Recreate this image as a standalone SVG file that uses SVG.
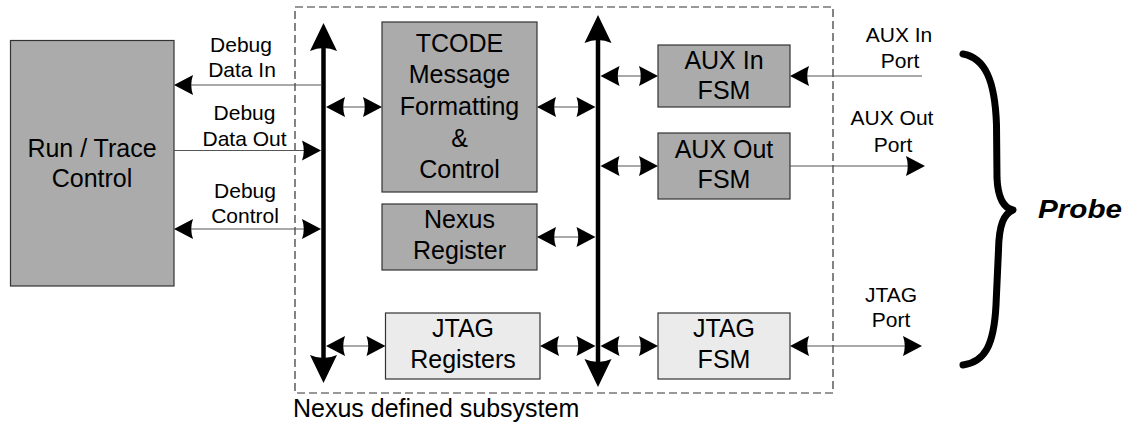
<svg xmlns="http://www.w3.org/2000/svg" xmlns:xlink="http://www.w3.org/1999/xlink" width="1131" height="433" viewBox="0 0 1131 433">
  <style>
    text { font-family: "Liberation Sans", Arial, sans-serif; fill: #000; }
    .box { fill: #ababab; stroke: #333; stroke-width: 1.2; }
    .box-light { fill: #ebebeb; stroke: #333; stroke-width: 1.2; }
    .t-box { font-size: 25px; text-anchor: middle; }
    .t-label { font-size: 21px; text-anchor: middle; }
    .wire { stroke: #555; stroke-width: 1.2; fill: none; }
    .bus { stroke: #000; stroke-width: 4.5; fill: none; }
  </style>
  <defs>
    <!-- notched arrowheads, tip at the origin, pointing right -->
    <path id="ah" d="M0,0 L-19,-10 Q-15.5,0 -19,10 Z" fill="#000"/>
    <path id="bah" d="M0,0 L-28,-13.5 Q-22,0 -28,13.5 Z" fill="#000"/>
  </defs>

  <!-- subsystem boundary -->
  <g id="subsystem">
    <rect x="295" y="7" width="538" height="386" fill="none" stroke="#333" stroke-width="1.2" stroke-dasharray="8,4"/>
    <text x="293" y="417" style="font-size:25px">Nexus defined subsystem</text>
  </g>

  <g id="run-trace">
    <rect class="box" x="10.5" y="40.5" width="163.5" height="245.5"/>
    <text class="t-box" x="92" y="157">Run / Trace</text>
    <text class="t-box" x="92" y="187">Control</text>
  </g>

  <g id="tcode">
    <rect class="box" x="382" y="22" width="155" height="170"/>
    <text class="t-box" x="459.5" y="52">TCODE</text>
    <text class="t-box" x="459.5" y="83">Message</text>
    <text class="t-box" x="459.5" y="115">Formatting</text>
    <text class="t-box" x="459.5" y="147">&amp;</text>
    <text class="t-box" x="459.5" y="178">Control</text>
  </g>

  <g id="nexus-register">
    <rect class="box" x="382" y="204" width="155" height="66"/>
    <text class="t-box" x="459.5" y="228">Nexus</text>
    <text class="t-box" x="459.5" y="259">Register</text>
  </g>

  <g id="jtag-registers">
    <rect class="box-light" x="385.5" y="313" width="154.5" height="66"/>
    <text class="t-box" x="463" y="337">JTAG</text>
    <text class="t-box" x="463" y="368">Registers</text>
  </g>

  <g id="aux-in-fsm">
    <rect class="box" x="658" y="45" width="132" height="62"/>
    <text class="t-box" x="724" y="68.5">AUX In</text>
    <text class="t-box" x="724" y="98.5">FSM</text>
  </g>

  <g id="aux-out-fsm">
    <rect class="box" x="658" y="133" width="132" height="66"/>
    <text class="t-box" x="724" y="158">AUX Out</text>
    <text class="t-box" x="724" y="188">FSM</text>
  </g>

  <g id="jtag-fsm">
    <rect class="box-light" x="658" y="313" width="132" height="66"/>
    <text class="t-box" x="724" y="337">JTAG</text>
    <text class="t-box" x="724" y="368">FSM</text>
  </g>

  <g id="probe">
    <path d="M963,54 C985,58 995,80 996.5,125 L997,178 C998,200 1004,208 1013,210 C1004,214 999,224 998.5,250 L996,305 C994,345 985,362 963,365" fill="none" stroke="#000" stroke-width="7" stroke-linecap="round" stroke-linejoin="round"/>
    <text x="1038" y="218" style="font-size:25px;font-weight:bold;font-style:italic" textLength="84" lengthAdjust="spacingAndGlyphs">Probe</text>
  </g>

  <g id="connectors">
    <!-- left bus -->
    <line class="bus" x1="323.5" y1="372" x2="323.5" y2="34"/>
    <use xlink:href="#bah" transform="translate(323.5,23) rotate(-90)"/>
    <use xlink:href="#bah" transform="translate(323.5,383) rotate(90)"/>
    <!-- right bus -->
    <line class="bus" x1="598" y1="376" x2="598" y2="26"/>
    <use xlink:href="#bah" transform="translate(598,15) rotate(-90)"/>
    <use xlink:href="#bah" transform="translate(598,387) rotate(90)"/>

    <!-- run/trace side -->
    <line class="wire" x1="321.5" y1="85" x2="180" y2="85"/>
    <use xlink:href="#ah" transform="translate(174,85) rotate(180)"/>
    <line class="wire" x1="174" y1="150.5" x2="315" y2="150.5"/>
    <use xlink:href="#ah" transform="translate(321,150.5)"/>
    <line class="wire" x1="180" y1="229" x2="315" y2="229"/>
    <use xlink:href="#ah" transform="translate(174,229) rotate(180)"/>
    <use xlink:href="#ah" transform="translate(321,229)"/>

    <!-- left bus to blocks -->
    <line class="wire" x1="332" y1="107" x2="376" y2="107"/>
    <use xlink:href="#ah" transform="translate(326,107) rotate(180)"/>
    <use xlink:href="#ah" transform="translate(382,107)"/>
    <line class="wire" x1="332" y1="346" x2="379" y2="346"/>
    <use xlink:href="#ah" transform="translate(326,346) rotate(180)"/>
    <use xlink:href="#ah" transform="translate(385.5,346)"/>

    <!-- blocks to right bus -->
    <line class="wire" x1="543" y1="107" x2="590" y2="107"/>
    <use xlink:href="#ah" transform="translate(537,107) rotate(180)"/>
    <use xlink:href="#ah" transform="translate(595.5,107)"/>
    <line class="wire" x1="543" y1="237" x2="590" y2="237"/>
    <use xlink:href="#ah" transform="translate(537,237) rotate(180)"/>
    <use xlink:href="#ah" transform="translate(595.5,237)"/>
    <line class="wire" x1="546" y1="346" x2="590" y2="346"/>
    <use xlink:href="#ah" transform="translate(540,346) rotate(180)"/>
    <use xlink:href="#ah" transform="translate(595.5,346)"/>

    <!-- right bus to FSMs -->
    <line class="wire" x1="606" y1="76" x2="652" y2="76"/>
    <use xlink:href="#ah" transform="translate(600.5,76) rotate(180)"/>
    <use xlink:href="#ah" transform="translate(658,76)"/>
    <line class="wire" x1="606" y1="166" x2="652" y2="166"/>
    <use xlink:href="#ah" transform="translate(600.5,166) rotate(180)"/>
    <use xlink:href="#ah" transform="translate(658,166)"/>
    <line class="wire" x1="606" y1="346" x2="652" y2="346"/>
    <use xlink:href="#ah" transform="translate(600.5,346) rotate(180)"/>
    <use xlink:href="#ah" transform="translate(658,346)"/>

    <!-- probe ports -->
    <line class="wire" x1="922" y1="76" x2="796" y2="76"/>
    <use xlink:href="#ah" transform="translate(790,76) rotate(180)"/>
    <line class="wire" x1="790" y1="166" x2="919" y2="166"/>
    <use xlink:href="#ah" transform="translate(925,166)"/>
    <line class="wire" x1="796" y1="346" x2="916" y2="346"/>
    <use xlink:href="#ah" transform="translate(790,346) rotate(180)"/>
    <use xlink:href="#ah" transform="translate(922,346)"/>
  </g>

  <g id="labels">
    <text class="t-label" x="241" y="52">Debug</text>
    <text class="t-label" x="242" y="77">Data In</text>
    <text class="t-label" x="244.5" y="120">Debug</text>
    <text class="t-label" x="244.5" y="145.5">Data Out</text>
    <text class="t-label" x="245" y="198">Debug</text>
    <text class="t-label" x="245" y="222.5">Control</text>
    <text class="t-label" x="899" y="42">AUX In</text>
    <text class="t-label" x="900" y="68">Port</text>
    <text class="t-label" x="892" y="125">AUX Out</text>
    <text class="t-label" x="893" y="151.5">Port</text>
    <text class="t-label" x="891" y="301.5">JTAG</text>
    <text class="t-label" x="891" y="327">Port</text>
  </g>
</svg>
